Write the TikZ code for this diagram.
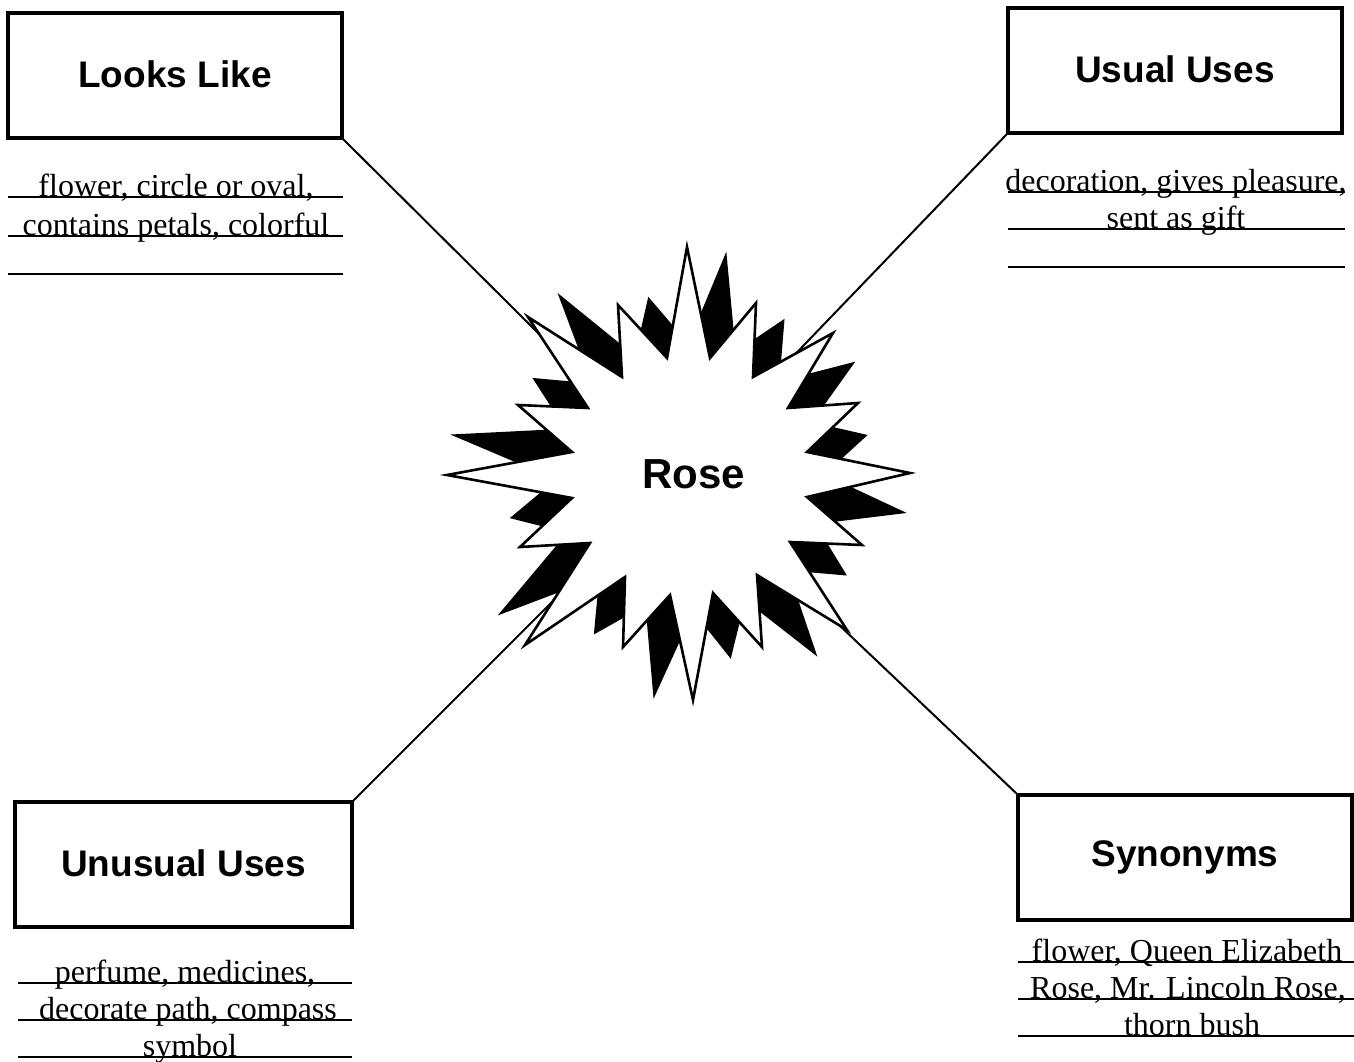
\documentclass[tikz,border=0pt]{standalone}
\usepackage{fontspec}
\setmainfont{Liberation Serif}
\newfontfamily\headfont{Liberation Sans}
\begin{document}
\begin{tikzpicture}[x=1pt,y=-1pt,
  catbox/.style={draw, line width=3.2pt, minimum width=334pt, minimum height=125pt, inner sep=0pt,
    font=\headfont\bfseries\fontsize{37}{40}\selectfont},
  bodytext/.style={anchor=base, inner sep=0pt, font=\fontsize{32}{36}\selectfont},
  uline/.style={line width=1.7pt},
  conn/.style={line width=2pt},
  starline/.style={line width=2.6pt, line join=miter, fill=white}]
\useasboundingbox (0,0) rectangle (1354,1062);

% boxes
\node[catbox] (looks) at (175,75.5) {\raisebox{2pt}{Looks Like}};
\node[catbox] (usual) at (1175,70.5) {\raisebox{3pt}{Usual Uses}};
\node[catbox, minimum width=337pt] (unusual) at (183.5,864.5) {\raisebox{3pt}{Unusual Uses}};
\node[catbox] (syn) at (1185,857.5) {Synonyms};

\coordinate (c) at (680,474);

% connectors
\draw[conn] (looks.south east) -- (c);
\draw[conn] (usual.south west) -- (c);
\draw[conn] (unusual.north east) -- (c);
\draw[conn] (syn.north west) -- (c);

% starburst: shadow
\fill[black, rotate around={-10:(680,474)}]
 (687,247) -- (713.6,344.1) -- (756,303) -- (761.8,365.4) -- (833,333) -- (801,400.1) -- (858,403) -- (822.2,449.4) --
 (910,473) -- (822.2,499.8) -- (862,545) -- (803.2,550.2) -- (847,630) -- (766.2,587.1) -- (762,647) -- (717,607.3) --
 (693,700) -- (668.8,609.5) -- (623,647) -- (618.4,589.4) -- (525,645) -- (579.2,551.3) -- (520,547) -- (559,500.9) --
 (447,475) -- (559,449.4) -- (518,405) -- (577,400.1) -- (528,317) -- (615,365.4) -- (618,305) -- (665.4,344.1) -- cycle;
% starburst: front
\draw[starline]
 (687,247) -- (710,358) -- (756,303) -- (753,377) -- (833,333) -- (788,408) -- (858,403) -- (807,452) --
 (910,473) -- (807,497) -- (862,545) -- (790,542) -- (847,630) -- (757,575) -- (762,647) -- (713,593) --
 (693,700) -- (670,595) -- (623,647) -- (625,577) -- (525,645) -- (590,543) -- (520,547) -- (572,498) --
 (447,475) -- (572,452) -- (518,405) -- (588,408) -- (528,317) -- (622,377) -- (618,305) -- (667,358) -- cycle;
\node[font=\headfont\bfseries\fontsize{42}{44}\selectfont, anchor=base, inner sep=0pt] (rose) at (694,488) {Rose};

% Looks Like lines
\draw[uline] (8,197) -- (343,197);
\draw[uline] (8,236) -- (343,236);
\draw[uline] (8,274) -- (343,274);
\node[bodytext] (ll1) at (176,196) {flower, circle or oval,};
\node[bodytext] (ll2) at (176,235) {contains petals, colorful};

% Usual Uses lines
\draw[uline] (1008,192) -- (1345,192);
\draw[uline] (1008,229) -- (1345,229);
\draw[uline] (1008,267) -- (1345,267);
\node[bodytext] (uu1) at (1176,191) {decoration, gives pleasure,};
\node[bodytext] (uu2) at (1176,228) {sent as gift};

% Unusual Uses lines
\draw[uline] (18,983) -- (352,983);
\draw[uline] (18,1020) -- (352,1020);
\draw[uline] (18,1057) -- (352,1057);
\node[bodytext] (un1) at (185,982) {perfume, medicines,};
\node[bodytext] (un2) at (188,1019) {decorate path, compass};
\node[bodytext] (un3) at (190,1056) {symbol};

% Synonyms lines
\draw[uline] (1018,962) -- (1354,962);
\draw[uline] (1018,999) -- (1354,999);
\draw[uline] (1018,1036) -- (1354,1036);
\node[bodytext] (sy1) at (1187,961) {flower, Queen Elizabeth};
\node[bodytext] (sy2) at (1188,998) {Rose, Mr. Lincoln Rose,};
\node[bodytext] (sy3) at (1192,1035) {thorn bush};
\end{tikzpicture}
\end{document}
